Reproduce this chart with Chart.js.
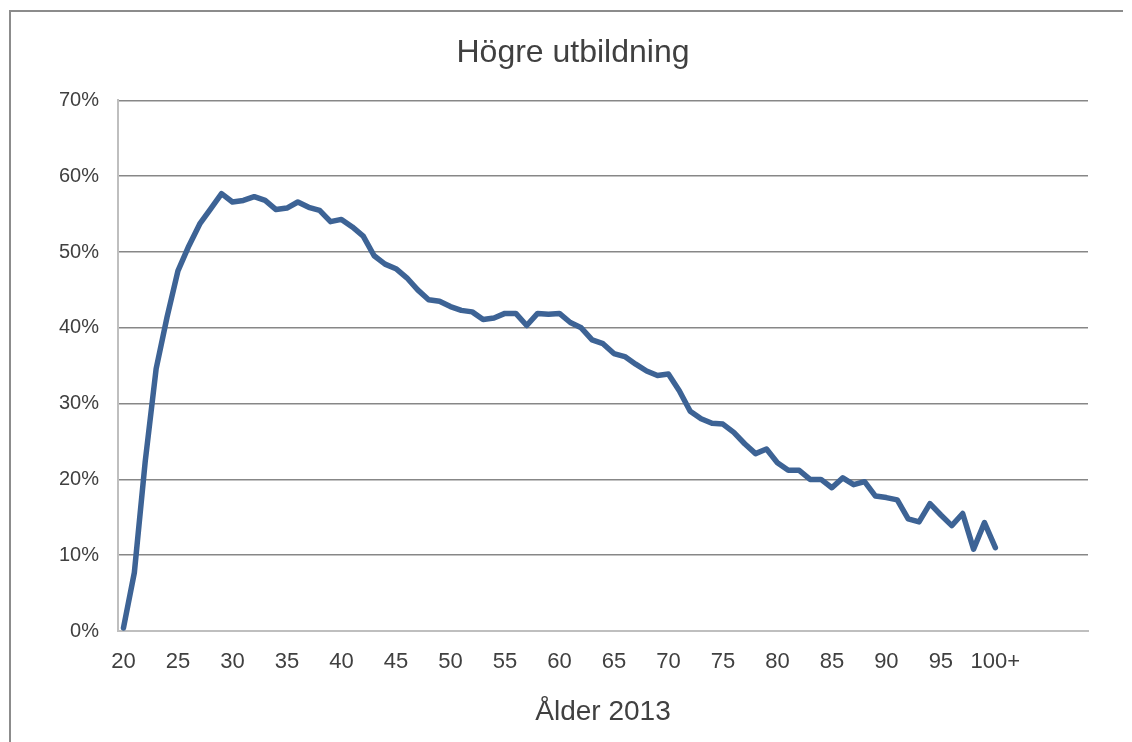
<!DOCTYPE html>
<html>
<head>
<meta charset="utf-8">
<script src="https://cdn.jsdelivr.net/npm/chart.js@4/dist/chart.umd.min.js"></script>
<style>
  html, body { margin: 0; padding: 0; background: #ffffff; }
  body { width: 1132px; height: 742px; position: relative; overflow: hidden; }
  #wrap { position: absolute; left: 0; top: 0; width: 1132px; height: 742px; }
  #frame { position: absolute; left: 9px; top: 10px; width: 1114px; height: 760px;
           border-left: 2px solid #8c8c8c; border-top: 2px solid #8c8c8c; box-sizing: border-box; pointer-events: none; }
</style>
</head>
<body>
<div id="wrap"><canvas id="c" width="1132" height="742"></canvas></div>
<div id="frame"></div>
<script>
const chartTitle = 'Högre utbildning';
const xAxisTitle = 'Ålder 2013';

// Age categories (axis extends a few empty slots beyond 100+)
const ages = ['20','21','22','23','24','25','26','27','28','29',
              '30','31','32','33','34','35','36','37','38','39',
              '40','41','42','43','44','45','46','47','48','49',
              '50','51','52','53','54','55','56','57','58','59',
              '60','61','62','63','64','65','66','67','68','69',
              '70','71','72','73','74','75','76','77','78','79',
              '80','81','82','83','84','85','86','87','88','89',
              '90','91','92','93','94','95','96','97','98','99',
              '100+'];
const emptySlots = ['','','','','','','',''];

// Share with higher education, percent
const shareHigherEd = [
  0.4, 7.7, 22.4, 34.6, 41.4, 47.5, 50.8, 53.7, 55.7, 57.7,
  56.6, 56.8, 57.3, 56.8, 55.6, 55.8, 56.6, 55.9, 55.5, 54.0,
  54.3, 53.3, 52.1, 49.5, 48.4, 47.8, 46.6, 45.0, 43.7, 43.5,
  42.8, 42.3, 42.1, 41.1, 41.3, 41.9, 41.9, 40.3, 41.9, 41.8,
  41.9, 40.7, 40.0, 38.4, 37.9, 36.6, 36.2, 35.2, 34.3, 33.7,
  33.9, 31.7, 29.0, 28.0, 27.4, 27.3, 26.2, 24.7, 23.4, 24.0,
  22.2, 21.2, 21.2, 20.0, 20.0, 18.9, 20.2, 19.3, 19.7, 17.8,
  17.6, 17.3, 14.8, 14.4, 16.8, 15.3, 13.9, 15.5, 10.8, 14.3,
  11.0
];

const yTicksMin = 0, yTicksMax = 70, yStep = 10;

const labels = ages.concat(emptySlots);
const textColor = '#404040';
const fontFamily = '"Liberation Sans", Arial, sans-serif';

new Chart(document.getElementById('c'), {
  type: 'line',
  data: {
    labels: labels,
    datasets: [{
      data: shareHigherEd,
      borderColor: '#3d6395',
      borderWidth: 5.5,
      pointRadius: 0,
      pointHoverRadius: 0,
      tension: 0,
      fill: false,
      borderCapStyle: 'round',
      borderJoinStyle: 'round'
    }]
  },
  options: {
    responsive: false,
    animation: false,
    devicePixelRatio: 1,
    layout: { padding: { top: 10, left: 58, right: 44, bottom: 13 } },
    plugins: {
      legend: { display: false },
      tooltip: { enabled: false },
      title: {
        display: true,
        text: chartTitle,
        color: textColor,
        font: { family: fontFamily, size: 32, weight: 'normal' },
        padding: { top: 24, bottom: 28 }
      }
    },
    scales: {
      x: {
        type: 'category',
        offset: true,
        grid: { display: false, drawTicks: false },
        border: { display: true, color: '#bfbfbf', width: 2 },
        ticks: {
          autoSkip: false,
          maxRotation: 0,
          minRotation: 0,
          padding: 18,
          color: textColor,
          font: { family: fontFamily, size: 22 },
          callback: function(value, index) { return index % 5 === 0 ? this.getLabelForValue(value) : ''; }
        },
        title: {
          display: true,
          text: xAxisTitle,
          color: textColor,
          font: { family: fontFamily, size: 28 },
          padding: { top: 2, bottom: 0 }
        }
      },
      y: {
        min: yTicksMin,
        max: yTicksMax,
        afterFit: function(s) { s.width = 60; },
        grid: {
          drawTicks: false,
          color: function(ctx) { return ctx.tick && ctx.tick.value === 0 ? '#bfbfbf' : '#878787'; },
          lineWidth: 1.5
        },
        border: { display: true, color: '#bfbfbf', width: 2 },
        ticks: {
          stepSize: yStep,
          padding: 19,
          color: textColor,
          font: { family: fontFamily, size: 20 },
          callback: function(v) { return v + '%'; }
        }
      }
    }
  }
});
</script>
</body>
</html>
